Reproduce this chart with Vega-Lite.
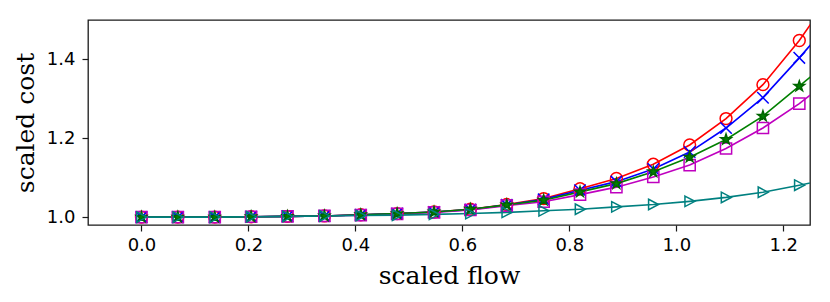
{
  "$schema": "https://vega.github.io/schema/vega-lite/v6.json",
  "width": 722,
  "height": 205,
  "autosize": {"type": "none"},
  "padding": {"left": 88, "top": 20, "right": 20, "bottom": 77},
  "background": "white",
  "config": {
    "view": {"stroke": "#1a1a1a", "strokeWidth": 1.3},
    "axis": {
      "domain": false,
      "grid": false,
      "ticks": true,
      "tickColor": "#1a1a1a",
      "tickSize": 6,
      "tickWidth": 1.2,
      "labelFont": "DejaVu Sans",
      "labelFontSize": 18,
      "labelColor": "black",
      "titleFont": "DejaVu Serif",
      "titleFontSize": 25,
      "titleFontWeight": "normal",
      "titleColor": "black"
    }
  },
  "data": {
    "values": [
      {"series": "s1", "x": 0.0, "y": 1.0}, {"series": "s1", "x": 0.068, "y": 1.0}, {"series": "s1", "x": 0.137, "y": 1.0}, {"series": "s1", "x": 0.205, "y": 1.001}, {"series": "s1", "x": 0.273, "y": 1.002}, {"series": "s1", "x": 0.342, "y": 1.003}, {"series": "s1", "x": 0.41, "y": 1.006}, {"series": "s1", "x": 0.478, "y": 1.009}, {"series": "s1", "x": 0.547, "y": 1.013}, {"series": "s1", "x": 0.615, "y": 1.02}, {"series": "s1", "x": 0.683, "y": 1.032}, {"series": "s1", "x": 0.752, "y": 1.047}, {"series": "s1", "x": 0.82, "y": 1.072}, {"series": "s1", "x": 0.888, "y": 1.098}, {"series": "s1", "x": 0.957, "y": 1.134}, {"series": "s1", "x": 1.025, "y": 1.183}, {"series": "s1", "x": 1.093, "y": 1.25}, {"series": "s1", "x": 1.162, "y": 1.336}, {"series": "s1", "x": 1.23, "y": 1.448}, {"series": "s1", "x": 1.298, "y": 1.58},
      {"series": "s2", "x": 0.0, "y": 1.0}, {"series": "s2", "x": 0.068, "y": 1.0}, {"series": "s2", "x": 0.137, "y": 1.0}, {"series": "s2", "x": 0.205, "y": 1.001}, {"series": "s2", "x": 0.273, "y": 1.002}, {"series": "s2", "x": 0.342, "y": 1.003}, {"series": "s2", "x": 0.41, "y": 1.006}, {"series": "s2", "x": 0.478, "y": 1.009}, {"series": "s2", "x": 0.547, "y": 1.013}, {"series": "s2", "x": 0.615, "y": 1.019}, {"series": "s2", "x": 0.683, "y": 1.031}, {"series": "s2", "x": 0.752, "y": 1.045}, {"series": "s2", "x": 0.82, "y": 1.068}, {"series": "s2", "x": 0.888, "y": 1.09}, {"series": "s2", "x": 0.957, "y": 1.122}, {"series": "s2", "x": 1.025, "y": 1.165}, {"series": "s2", "x": 1.093, "y": 1.226}, {"series": "s2", "x": 1.162, "y": 1.303}, {"series": "s2", "x": 1.23, "y": 1.404}, {"series": "s2", "x": 1.298, "y": 1.51},
      {"series": "s3", "x": 0.0, "y": 1.0}, {"series": "s3", "x": 0.068, "y": 1.0}, {"series": "s3", "x": 0.137, "y": 1.0}, {"series": "s3", "x": 0.205, "y": 1.001}, {"series": "s3", "x": 0.273, "y": 1.002}, {"series": "s3", "x": 0.342, "y": 1.003}, {"series": "s3", "x": 0.41, "y": 1.005}, {"series": "s3", "x": 0.478, "y": 1.008}, {"series": "s3", "x": 0.547, "y": 1.012}, {"series": "s3", "x": 0.615, "y": 1.018}, {"series": "s3", "x": 0.683, "y": 1.029}, {"series": "s3", "x": 0.752, "y": 1.039}, {"series": "s3", "x": 0.82, "y": 1.057}, {"series": "s3", "x": 0.888, "y": 1.076}, {"series": "s3", "x": 0.957, "y": 1.102}, {"series": "s3", "x": 1.025, "y": 1.132}, {"series": "s3", "x": 1.093, "y": 1.174}, {"series": "s3", "x": 1.162, "y": 1.226}, {"series": "s3", "x": 1.23, "y": 1.288}, {"series": "s3", "x": 1.298, "y": 1.36},
      {"series": "s4", "x": 0.0, "y": 1.0}, {"series": "s4", "x": 0.068, "y": 1.0}, {"series": "s4", "x": 0.137, "y": 1.0}, {"series": "s4", "x": 0.205, "y": 1.001}, {"series": "s4", "x": 0.273, "y": 1.002}, {"series": "s4", "x": 0.342, "y": 1.003}, {"series": "s4", "x": 0.41, "y": 1.006}, {"series": "s4", "x": 0.478, "y": 1.009}, {"series": "s4", "x": 0.547, "y": 1.013}, {"series": "s4", "x": 0.615, "y": 1.02}, {"series": "s4", "x": 0.683, "y": 1.031}, {"series": "s4", "x": 0.752, "y": 1.043}, {"series": "s4", "x": 0.82, "y": 1.064}, {"series": "s4", "x": 0.888, "y": 1.085}, {"series": "s4", "x": 0.957, "y": 1.115}, {"series": "s4", "x": 1.025, "y": 1.152}, {"series": "s4", "x": 1.093, "y": 1.197}, {"series": "s4", "x": 1.162, "y": 1.256}, {"series": "s4", "x": 1.23, "y": 1.332}, {"series": "s4", "x": 1.298, "y": 1.41},
      {"series": "s5", "x": 0.0, "y": 1.0}, {"series": "s5", "x": 0.068, "y": 1.0}, {"series": "s5", "x": 0.137, "y": 1.0}, {"series": "s5", "x": 0.205, "y": 1.001}, {"series": "s5", "x": 0.273, "y": 1.002}, {"series": "s5", "x": 0.342, "y": 1.003}, {"series": "s5", "x": 0.41, "y": 1.004}, {"series": "s5", "x": 0.478, "y": 1.005}, {"series": "s5", "x": 0.547, "y": 1.007}, {"series": "s5", "x": 0.615, "y": 1.009}, {"series": "s5", "x": 0.683, "y": 1.012}, {"series": "s5", "x": 0.752, "y": 1.016}, {"series": "s5", "x": 0.82, "y": 1.02}, {"series": "s5", "x": 0.888, "y": 1.026}, {"series": "s5", "x": 0.957, "y": 1.032}, {"series": "s5", "x": 1.025, "y": 1.04}, {"series": "s5", "x": 1.093, "y": 1.05}, {"series": "s5", "x": 1.162, "y": 1.063}, {"series": "s5", "x": 1.23, "y": 1.081}, {"series": "s5", "x": 1.298, "y": 1.1}
    ]
  },
  "encoding": {
    "x": {
      "field": "x", "type": "quantitative",
      "scale": {"domain": [-0.1, 1.25], "nice": false, "zero": false},
      "axis": {"title": "scaled flow", "values": [0, 0.2, 0.4, 0.6, 0.8, 1.0, 1.2], "format": ".1f", "labelPadding": 5, "titleY": 58, "titleBaseline": "alphabetic"}
    },
    "y": {
      "field": "y", "type": "quantitative",
      "scale": {"domain": [0.98, 1.5], "nice": false, "zero": false},
      "axis": {"title": "scaled cost", "values": [1.0, 1.2, 1.4], "format": ".1f", "labelPadding": 7, "titleX": -55, "titleBaseline": "alphabetic"}
    }
  },
  "layer": [
    {
      "mark": {"type": "line", "clip": true, "strokeWidth": 1.6},
      "encoding": {
        "color": {
          "field": "series", "type": "nominal", "legend": null,
          "scale": {"domain": ["s1", "s2", "s3", "s4", "s5"], "range": ["#ff0000", "#0000ff", "#bf00bf", "#008000", "#008080"]}
        }
      }
    },
    {
      "mark": {"type": "point", "clip": true, "strokeWidth": 1.5, "opacity": 1},
      "encoding": {
        "stroke": {
          "field": "series", "type": "nominal", "legend": null,
          "scale": {"domain": ["s1", "s2", "s3", "s4", "s5"], "range": ["#ff0000", "#0000ff", "#bf00bf", "#006400", "#008080"]}
        },
        "fill": {
          "field": "series", "type": "nominal", "legend": null,
          "scale": {"domain": ["s1", "s2", "s3", "s4", "s5"], "range": ["transparent", "transparent", "transparent", "#008000", "transparent"]}
        },
        "shape": {
          "field": "series", "type": "nominal", "legend": null,
          "scale": {"domain": ["s1", "s2", "s3", "s4", "s5"], "range": ["circle", "M-1,-1L1,1M-1,1L1,-1", "square", "M0,-1L0.2245,-0.309L0.951,-0.309L0.363,0.118L0.588,0.809L0,0.382L-0.588,0.809L-0.363,0.118L-0.951,-0.309L-0.2245,-0.309Z", "M-0.9,-1L1,0L-0.9,1Z"]}
        },
        "size": {
          "field": "series", "type": "nominal", "legend": null,
          "scale": {"domain": ["s1", "s2", "s3", "s4", "s5"], "range": [140, 110, 130, 150, 180]}
        }
      }
    }
  ]
}
